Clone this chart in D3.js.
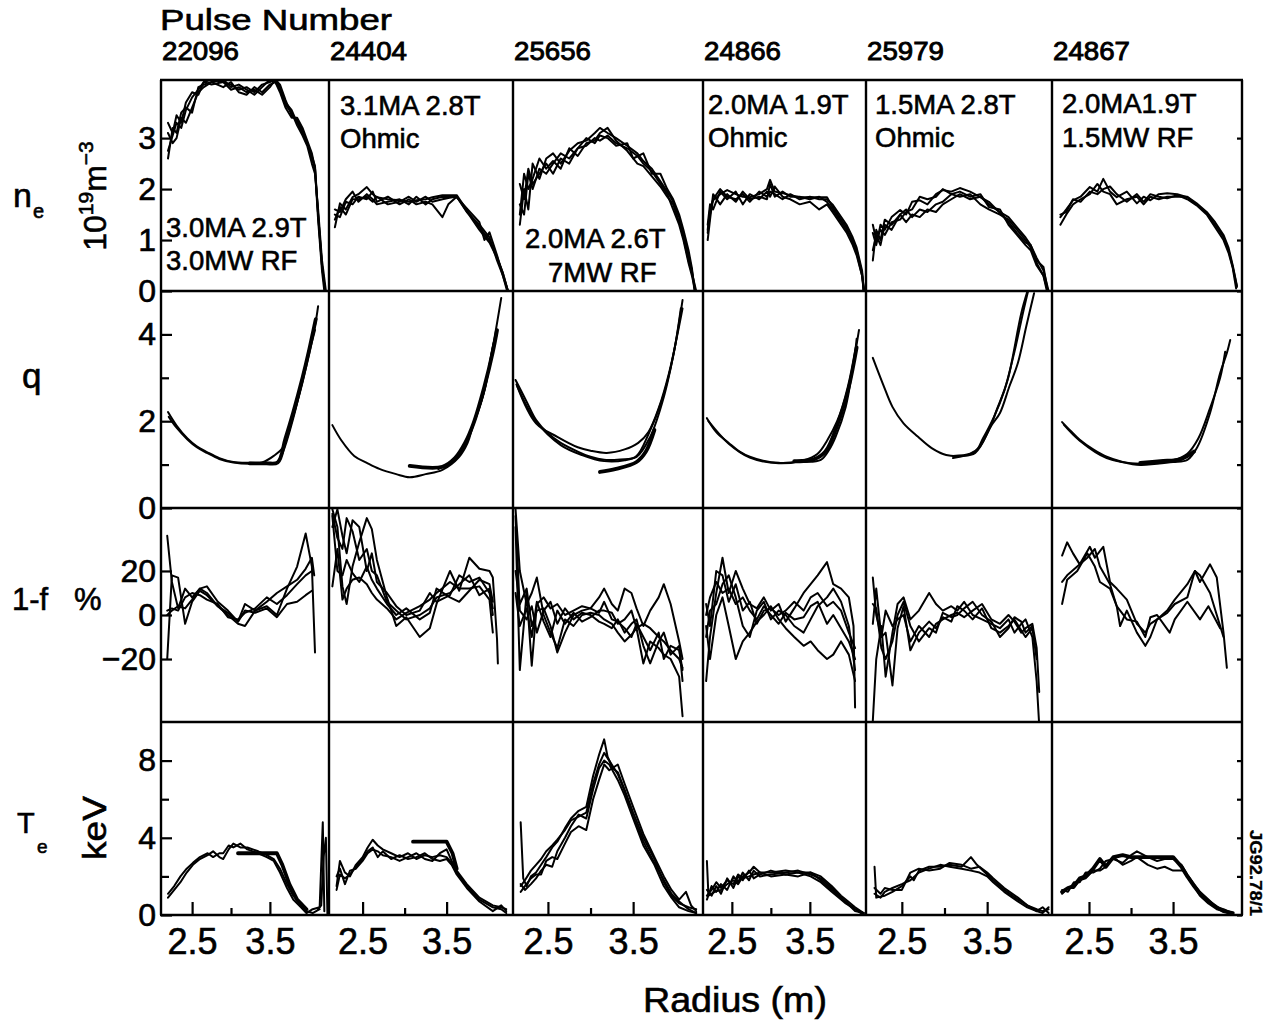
<!DOCTYPE html>
<html>
<head>
<meta charset="utf-8">
<script src="https://cdn.jsdelivr.net/npm/d3@7"></script>
<style>
  body { margin: 0; background: #fff; }
  svg { font-family: "Liberation Sans", Arial, Helvetica, sans-serif; }
</style>
</head>
<body>
<div id="chart"></div>
<script>
// ---- chart content ----
const pulses = ["22096", "24404", "25656", "24866", "25979", "24867"];
const conditions = [
  ["3.0MA 2.9T", "3.0MW RF"],
  ["3.1MA 2.8T", "Ohmic"],
  ["2.0MA 2.6T", "7MW RF"],
  ["2.0MA 1.9T", "Ohmic"],
  ["1.5MA 2.8T", "Ohmic"],
  ["2.0MA1.9T", "1.5MW RF"]
];
// radius range shown by each column (m)
const radiusDomains = [[2.10, 4.26], [2.10, 4.29], [2.09, 4.32], [2.13, 4.22], [2.08, 4.26], [2.06, 4.32]];
const radiusTicks = [2.5, 3.5];
const radiusMinorTicks = [3.0];
// rows: ne (1e19 m^-3), q, 1-f (%), Te (keV)
const quantityDomains = [[0, 4.14], [0, 5], [-48.6, 48.6], [0, 10]];
const quantityTicks = [[0, 1, 2, 3], [0, 2, 4], [-20, 0, 20], [0, 4, 8]];
const quantityMinorTicks = [[], [1, 3], [], [2, 6]];

// ---- ne profiles ----
const ne_22096 = [
  [[2.19,2.75],[2.25,3.05],[2.30,3.3],[2.36,3.2],[2.42,3.55],[2.50,3.8],[2.58,3.95],[2.65,4.1],[2.75,4.15],[2.90,4.1],[3.00,4.05],[3.10,3.95],[3.20,4.0],[3.30,3.9],[3.40,4.05],[3.50,4.1],[3.57,4.15],[3.63,4.0],[3.70,3.7],[3.78,3.55],[3.85,3.3],[3.92,3.1],[3.98,2.9],[4.04,2.6],[4.08,2.4],[4.12,1.5],[4.17,0.5],[4.21,0.0]],
  [[2.19,3.1],[2.25,2.9],[2.30,3.0],[2.36,3.4],[2.42,3.3],[2.50,3.6],[2.58,3.9],[2.65,4.0],[2.75,4.1],[2.90,4.0],[3.00,4.1],[3.10,3.9],[3.20,3.85],[3.30,4.0],[3.40,3.9],[3.50,4.05],[3.57,4.1],[3.63,3.9],[3.70,3.6],[3.78,3.4],[3.85,3.4],[3.92,3.2],[3.98,2.95],[4.04,2.7],[4.08,2.4],[4.12,1.4],[4.17,0.4],[4.20,0.0]],
  [[2.19,2.6],[2.25,3.2],[2.30,3.1],[2.36,3.5],[2.42,3.6],[2.50,3.5],[2.58,4.0],[2.65,4.05],[2.75,4.1],[2.90,4.15],[3.00,4.0],[3.10,4.05],[3.20,3.95],[3.30,3.85],[3.40,4.0],[3.50,4.15],[3.57,4.1],[3.63,3.95],[3.70,3.65],[3.78,3.5],[3.85,3.25],[3.92,3.05],[3.98,2.85],[4.04,2.5],[4.08,2.3],[4.12,1.6],[4.17,0.6],[4.22,0.0]],
  [[2.19,3.3],[2.25,3.1],[2.30,3.45],[2.36,3.3],[2.42,3.7],[2.50,3.9],[2.58,3.85],[2.65,4.1],[2.75,4.05],[2.90,4.1],[3.00,3.95],[3.10,4.0],[3.20,3.9],[3.30,3.95],[3.40,3.85],[3.50,4.0],[3.57,4.15],[3.63,4.05],[3.70,3.75],[3.78,3.45],[3.85,3.35],[3.92,3.15],[3.98,2.9],[4.04,2.65],[4.08,2.45],[4.12,1.5],[4.17,0.5],[4.21,0.0]]
];
const ne_24404 = [
  [[2.17,1.25],[2.23,1.72],[2.30,1.6],[2.38,1.84],[2.45,1.9],[2.55,2.04],[2.62,1.9],[2.67,1.84],[2.80,1.8],[2.94,1.78],[3.05,1.75],[3.14,1.78],[3.25,1.8],[3.33,1.84],[3.45,1.88],[3.62,1.88],[3.74,1.59],[3.89,1.25],[4.01,1.0],[4.10,0.67],[4.17,0.35],[4.23,0.0]],
  [[2.17,1.5],[2.23,1.45],[2.30,1.75],[2.38,1.7],[2.45,1.85],[2.55,1.8],[2.62,1.95],[2.67,1.75],[2.80,1.85],[2.94,1.7],[3.05,1.8],[3.14,1.7],[3.25,1.75],[3.33,1.7],[3.45,1.45],[3.52,1.7],[3.62,1.85],[3.74,1.55],[3.89,1.3],[4.01,1.05],[4.10,0.6],[4.17,0.3],[4.22,0.0]],
  [[2.17,1.6],[2.23,1.55],[2.30,1.8],[2.38,1.95],[2.45,1.75],[2.55,1.9],[2.62,1.8],[2.67,1.7],[2.80,1.75],[2.94,1.8],[3.05,1.7],[3.14,1.85],[3.25,1.7],[3.33,1.8],[3.45,1.85],[3.62,1.84],[3.74,1.62],[3.89,1.35],[3.95,1.0],[4.01,1.15],[4.10,0.7],[4.17,0.3],[4.23,0.0]],
  [[2.17,1.4],[2.23,1.65],[2.30,1.5],[2.38,1.8],[2.45,1.8],[2.55,1.85],[2.62,1.75],[2.67,1.85],[2.80,1.7],[2.94,1.75],[3.05,1.85],[3.14,1.75],[3.25,1.85],[3.33,1.75],[3.45,1.8],[3.62,1.86],[3.74,1.56],[3.89,1.2],[4.01,0.95],[4.10,0.65],[4.17,0.35],[4.23,0.0]]
];
const ne_25656 = [
  [[2.17,1.3],[2.22,2.0],[2.27,1.6],[2.32,2.5],[2.40,2.2],[2.48,2.6],[2.56,2.7],[2.65,2.5],[2.75,2.75],[2.85,2.9],[2.95,2.95],[3.05,3.1],[3.11,3.2],[3.20,3.1],[3.30,3.0],[3.43,2.85],[3.55,2.7],[3.62,2.55],[3.72,2.4],[3.82,2.15],[3.90,1.95],[3.97,1.75],[4.04,1.45],[4.09,1.1],[4.15,0.7],[4.19,0.4],[4.23,0.0]],
  [[2.17,1.7],[2.22,1.5],[2.27,2.3],[2.32,2.0],[2.40,2.4],[2.48,2.3],[2.56,2.5],[2.65,2.7],[2.75,2.6],[2.85,2.8],[2.95,3.0],[3.05,2.9],[3.11,3.05],[3.20,3.0],[3.30,2.85],[3.43,2.9],[3.50,2.6],[3.62,2.7],[3.72,2.3],[3.82,2.3],[3.90,2.0],[3.97,1.8],[4.04,1.5],[4.09,1.2],[4.15,0.8],[4.19,0.45],[4.22,0.0]],
  [[2.17,1.5],[2.22,2.3],[2.27,2.0],[2.32,2.2],[2.40,2.6],[2.48,2.4],[2.56,2.55],[2.65,2.4],[2.75,2.8],[2.85,2.65],[2.95,2.9],[3.05,2.95],[3.11,3.1],[3.20,3.2],[3.30,2.95],[3.43,2.75],[3.55,2.5],[3.62,2.45],[3.72,2.25],[3.82,2.05],[3.90,1.85],[3.97,1.7],[4.04,1.35],[4.09,1.05],[4.15,0.6],[4.19,0.35],[4.24,0.0]],
  [[2.17,2.1],[2.22,1.8],[2.27,2.4],[2.32,2.1],[2.40,2.3],[2.48,2.5],[2.56,2.3],[2.65,2.6],[2.75,2.5],[2.85,2.8],[2.95,2.85],[3.05,3.0],[3.11,2.95],[3.20,3.05],[3.30,2.9],[3.43,2.8],[3.55,2.65],[3.62,2.5],[3.72,2.35],[3.82,2.1],[3.90,1.9],[3.97,1.6],[4.04,1.3],[4.09,1.0],[4.15,0.55],[4.19,0.3],[4.23,0.0]]
];
const ne_24866 = [
  [[2.19,1.14],[2.22,1.5],[2.26,1.78],[2.35,1.9],[2.44,1.98],[2.55,1.9],[2.64,1.85],[2.73,1.84],[2.85,1.9],[2.95,2.0],[2.99,2.18],[3.05,1.95],[3.15,1.92],[3.25,1.88],[3.37,1.84],[3.50,1.84],[3.62,1.84],[3.72,1.84],[3.79,1.65],[3.88,1.45],[3.97,1.25],[4.05,0.95],[4.10,0.8],[4.17,0.35],[4.19,0.0]],
  [[2.19,1.3],[2.22,1.7],[2.26,1.6],[2.35,1.95],[2.44,1.8],[2.55,1.95],[2.64,1.7],[2.73,1.9],[2.85,1.8],[2.95,1.95],[2.99,1.85],[3.05,2.05],[3.15,1.85],[3.25,1.8],[3.37,1.7],[3.50,1.75],[3.62,1.6],[3.72,1.7],[3.79,1.55],[3.88,1.35],[3.97,1.15],[4.05,0.9],[4.10,0.7],[4.17,0.3],[4.19,0.0]],
  [[2.19,1.0],[2.22,1.4],[2.26,1.9],[2.35,1.7],[2.44,1.9],[2.55,1.75],[2.64,1.95],[2.73,1.8],[2.85,1.85],[2.95,1.8],[2.99,2.1],[3.05,1.85],[3.15,1.95],[3.25,1.85],[3.37,1.85],[3.50,1.8],[3.62,1.85],[3.72,1.75],[3.79,1.6],[3.88,1.4],[3.97,1.2],[4.05,1.0],[4.10,0.75],[4.17,0.3],[4.20,0.0]],
  [[2.19,1.2],[2.22,1.6],[2.26,1.8],[2.35,2.0],[2.44,1.85],[2.55,1.8],[2.64,1.9],[2.73,1.75],[2.85,1.95],[2.95,1.85],[2.99,1.95],[3.05,1.9],[3.15,1.8],[3.25,1.9],[3.37,1.8],[3.50,1.85],[3.62,1.8],[3.72,1.8],[3.79,1.7],[3.88,1.5],[3.97,1.3],[4.05,1.05],[4.10,0.85],[4.17,0.4],[4.19,0.0]]
];
const ne_25979 = [
  [[2.16,1.14],[2.20,0.9],[2.25,1.3],[2.30,1.2],[2.38,1.45],[2.48,1.59],[2.55,1.5],[2.62,1.75],[2.71,1.78],[2.80,1.7],[2.90,1.9],[2.98,1.98],[3.08,1.95],[3.18,2.02],[3.30,1.95],[3.42,1.84],[3.52,1.75],[3.65,1.53],[3.75,1.35],[3.85,1.14],[3.95,0.95],[4.01,0.9],[4.08,0.6],[4.16,0.47],[4.21,0.0]],
  [[2.16,0.6],[2.20,1.2],[2.25,1.0],[2.30,1.4],[2.38,1.3],[2.48,1.5],[2.55,1.6],[2.62,1.45],[2.71,1.6],[2.80,1.55],[2.90,1.7],[2.98,1.75],[3.08,1.9],[3.18,1.85],[3.30,1.9],[3.42,1.7],[3.52,1.6],[3.65,1.5],[3.75,1.4],[3.85,1.2],[3.95,1.0],[4.01,0.85],[4.08,0.55],[4.16,0.3],[4.20,0.0]],
  [[2.16,1.3],[2.20,1.0],[2.25,1.2],[2.30,1.1],[2.38,1.35],[2.48,1.4],[2.55,1.55],[2.62,1.6],[2.71,1.85],[2.80,1.8],[2.90,1.85],[2.98,2.0],[3.08,1.9],[3.18,1.95],[3.30,1.85],[3.42,1.9],[3.52,1.65],[3.65,1.6],[3.75,1.3],[3.85,1.1],[3.95,0.9],[4.01,0.8],[4.08,0.5],[4.16,0.3],[4.21,0.0]],
  [[2.16,0.8],[2.20,1.1],[2.25,0.9],[2.30,1.3],[2.38,1.2],[2.48,1.5],[2.55,1.35],[2.62,1.5],[2.71,1.45],[2.80,1.6],[2.90,1.55],[2.98,1.7],[3.08,1.8],[3.18,1.9],[3.30,1.8],[3.42,1.85],[3.52,1.7],[3.65,1.55],[3.75,1.45],[3.85,1.25],[3.95,1.05],[4.01,0.9],[4.08,0.65],[4.16,0.4],[4.22,0.0]]
];
const ne_24867 = [
  [[2.16,1.45],[2.23,1.6],[2.31,1.78],[2.40,1.85],[2.51,2.04],[2.60,1.95],[2.67,2.2],[2.75,1.95],[2.83,1.84],[2.95,1.95],[3.07,1.72],[3.15,1.85],[3.23,1.78],[3.33,1.9],[3.43,1.92],[3.55,1.9],[3.67,1.84],[3.78,1.7],[3.90,1.53],[4.00,1.3],[4.10,1.06],[4.16,0.8],[4.21,0.47],[4.26,0.08]],
  [[2.16,1.3],[2.23,1.5],[2.31,1.7],[2.40,1.8],[2.51,1.9],[2.60,2.1],[2.67,1.95],[2.75,1.9],[2.83,1.7],[2.95,1.8],[3.07,1.85],[3.15,1.7],[3.23,1.85],[3.33,1.8],[3.43,1.85],[3.55,1.85],[3.67,1.85],[3.78,1.72],[3.90,1.55],[4.00,1.35],[4.10,1.1],[4.16,0.85],[4.21,0.5],[4.26,0.1]],
  [[2.16,1.5],[2.23,1.55],[2.31,1.8],[2.40,1.75],[2.51,1.95],[2.60,1.9],[2.67,2.0],[2.75,2.05],[2.83,1.9],[2.95,1.75],[3.07,1.9],[3.15,1.75],[3.23,1.9],[3.33,1.85],[3.43,1.82],[3.55,1.88],[3.67,1.8],[3.78,1.68],[3.90,1.5],[4.00,1.25],[4.10,1.0],[4.16,0.75],[4.21,0.45],[4.25,0.05]]
];

// ---- q profiles ----
const q_22096 = [
  [[2.19,2.21],[2.30,1.9],[2.44,1.6],[2.56,1.42],[2.69,1.29],[2.85,1.15],[3.03,1.06],[3.24,1.04],[3.45,1.04],[3.59,1.04],[3.67,1.3],[3.79,2.0],[3.92,2.95],[4.01,3.7],[4.08,4.2],[4.12,4.65]],
  [[2.20,2.1],[2.30,1.85],[2.44,1.58],[2.56,1.4],[2.69,1.27],[2.85,1.13],[3.03,1.05],[3.24,1.02],[3.40,1.05],[3.55,1.2],[3.67,1.4],[3.79,2.05],[3.92,2.9],[4.01,3.6],[4.08,4.1]],
  [[3.24,1.03],[3.45,1.03],[3.60,1.05],[3.70,1.6],[3.80,2.2],[3.92,3.0],[4.00,3.6],[4.06,4.1],[4.09,4.35]]
];
const q_24404 = [
  [[2.14,1.91],[2.25,1.55],[2.40,1.2],[2.55,1.04],[2.70,0.9],[2.90,0.78],[3.06,0.71],[3.25,0.78],[3.45,0.88],[3.65,1.18],[3.75,1.5],[3.81,1.87],[3.93,2.56],[4.05,3.71],[4.15,4.84]],
  [[3.06,0.97],[3.45,0.95],[3.60,1.15],[3.72,1.5],[3.82,1.95],[3.95,2.8],[4.05,3.6],[4.10,4.1]],
  [[3.40,0.9],[3.60,1.1],[3.72,1.45],[3.83,2.0],[3.95,2.7],[4.06,3.8],[4.10,4.0]]
];
const q_25656 = [
  [[2.12,2.95],[2.25,2.45],[2.36,2.03],[2.50,1.72],[2.65,1.5],[2.85,1.3],[3.00,1.18],[3.16,1.11],[3.35,1.12],[3.54,1.18],[3.70,1.64],[3.86,2.56],[3.99,3.71],[4.08,4.79]],
  [[2.14,2.8],[2.36,1.95],[2.61,1.64],[2.85,1.4],[3.00,1.32],[3.19,1.27],[3.40,1.35],[3.56,1.5],[3.68,1.75],[3.80,2.3],[3.92,3.1],[4.02,4.0],[4.08,4.6]],
  [[3.11,0.83],[3.30,0.9],[3.54,1.06],[3.65,1.3],[3.75,1.8]],
  [[2.13,2.85],[2.36,2.0],[2.65,1.45],[2.90,1.22],[3.16,1.08],[3.40,1.1],[3.54,1.2],[3.68,1.7],[3.84,2.5],[3.97,3.5],[4.06,4.6]]
];
const q_24866 = [
  [[2.18,2.07],[2.30,1.75],[2.46,1.5],[2.60,1.3],[2.73,1.18],[2.90,1.09],[3.10,1.04],[3.25,1.05],[3.42,1.06],[3.64,1.11],[3.75,1.35],[3.83,1.64],[3.96,2.33],[4.06,3.34],[4.13,4.1]],
  [[2.20,2.0],[2.46,1.48],[2.73,1.16],[3.10,1.03],[3.42,1.1],[3.60,1.25],[3.72,1.55],[3.85,2.0],[3.98,2.7],[4.08,3.6],[4.10,3.9]],
  [[3.30,1.08],[3.55,1.12],[3.70,1.3],[3.85,1.9],[4.00,2.8],[4.10,3.7]]
];
const q_25979 = [
  [[2.16,3.46],[2.28,2.85],[2.39,2.33],[2.52,1.95],[2.69,1.64],[2.85,1.38],[3.02,1.22],[3.20,1.2],[3.36,1.27],[3.52,1.8],[3.62,2.3],[3.74,2.95],[3.90,4.49],[3.97,4.98]],
  [[3.10,1.2],[3.30,1.25],[3.41,1.4],[3.55,1.9],[3.65,2.19],[3.76,2.8],[3.86,3.34],[3.96,4.2],[4.05,4.95]],
  [[3.10,1.15],[3.36,1.3],[3.45,1.6],[3.58,2.1],[3.70,2.7],[3.82,3.6],[3.92,4.5],[3.98,5.0]]
];
const q_24867 = [
  [[2.18,1.98],[2.28,1.78],[2.39,1.57],[2.55,1.35],[2.71,1.18],[2.90,1.06],[3.11,0.99],[3.30,1.02],[3.50,1.06],[3.67,1.11],[3.79,1.41],[3.94,2.19],[4.06,3.11],[4.14,3.57],[4.18,3.87]],
  [[2.20,1.92],[2.39,1.55],[2.71,1.15],[3.11,1.02],[3.50,1.1],[3.67,1.25],[3.80,1.6],[3.94,2.3],[4.06,3.0],[4.12,3.6]],
  [[3.11,1.04],[3.35,1.08],[3.60,1.13],[3.75,1.3]]
];

// ---- 1-f profiles (%) ----
const ff_22096 = [
  [[2.18,36],[2.24,15],[2.32,3],[2.41,12],[2.50,8],[2.60,12],[2.69,13],[2.83,6],[2.96,2],[3.09,-3],[3.18,5],[3.31,2],[3.46,4],[3.59,0],[3.72,12],[3.85,22],[3.96,37],[4.04,22],[4.08,-17]],
  [[2.18,-20],[2.24,18],[2.32,17],[2.41,-4],[2.50,6],[2.60,11],[2.69,9],[2.83,4],[2.96,0],[3.09,-4],[3.18,-5],[3.31,2],[3.46,6],[3.59,10],[3.72,13],[3.85,16],[3.96,21],[4.04,26],[4.07,18]],
  [[2.18,2],[2.24,3],[2.32,2],[2.41,8],[2.50,10],[2.60,9],[2.69,7],[2.83,5],[2.96,-1],[3.09,-2],[3.18,1],[3.31,3],[3.46,8],[3.59,5],[3.72,9],[3.85,14],[3.96,18],[4.04,20]],
  [[2.18,0],[2.24,2],[2.32,4],[2.41,3],[2.50,7],[2.60,12],[2.69,10],[2.83,4],[2.96,1],[3.09,-3],[3.18,2],[3.31,1],[3.46,3],[3.59,-1],[3.72,5],[3.85,6],[3.96,9],[4.04,11]]
];
const ff_24404 = [
  [[2.14,48],[2.20,40],[2.26,13],[2.31,5],[2.38,22],[2.46,33],[2.55,44],[2.61,39],[2.67,25],[2.79,8],[2.90,-5],[3.02,-1],[3.18,-10],[3.30,-6],[3.38,5],[3.54,20],[3.65,11],[3.77,26],[3.89,21],[4.01,20],[4.05,17],[4.10,-11],[4.11,-22]],
  [[2.14,13],[2.20,30],[2.26,7],[2.31,12],[2.38,16],[2.46,17],[2.55,14],[2.61,10],[2.67,7],[2.79,3],[2.90,-2],[3.02,1],[3.18,4],[3.30,7],[3.38,10],[3.54,15],[3.65,12],[3.77,12],[3.89,13],[4.01,7],[4.05,-8]],
  [[2.14,46],[2.20,35],[2.26,30],[2.31,44],[2.38,38],[2.46,25],[2.55,30],[2.61,20],[2.67,18],[2.79,6],[2.90,2],[3.02,-2],[3.18,0],[3.30,3],[3.38,8],[3.54,10],[3.65,14],[3.77,18],[3.89,9],[4.01,12],[4.05,0]],
  [[2.14,40],[2.20,48],[2.26,36],[2.31,28],[2.38,43],[2.46,40],[2.55,20],[2.61,28],[2.67,15],[2.79,10],[2.90,4],[3.02,0],[3.18,2],[3.30,10],[3.38,6],[3.54,9],[3.65,18],[3.77,15],[3.89,17],[4.01,10],[4.05,3]],
  [[2.14,45],[2.20,20],[2.26,18],[2.31,25],[2.38,19],[2.46,15],[2.55,22],[2.61,16],[2.67,12],[2.79,5],[2.90,0],[3.02,3],[3.18,-2],[3.30,1],[3.38,12],[3.54,8],[3.65,6],[3.77,11],[3.89,16],[4.01,14],[4.05,6]]
];
const ff_25656 = [
  [[2.12,48],[2.17,20],[2.25,5],[2.31,10],[2.37,17],[2.45,0],[2.53,-8],[2.61,-15],[2.70,-2],[2.80,-5],[2.90,0],[3.00,1],[3.10,0],[3.16,-2],[3.25,-4],[3.32,-8],[3.40,-12],[3.48,-9],[3.54,-6],[3.62,-22],[3.70,-12],[3.80,-15],[3.86,-18],[3.94,-20],[4.04,-28],[4.08,-46]],
  [[2.12,40],[2.17,-25],[2.25,10],[2.31,-23],[2.37,5],[2.45,8],[2.53,3],[2.61,5],[2.70,0],[2.80,2],[2.90,4],[3.00,3],[3.10,8],[3.16,12],[3.25,5],[3.32,2],[3.40,12],[3.48,10],[3.54,3],[3.62,-5],[3.70,2],[3.80,8],[3.86,14],[3.94,5],[4.04,-12],[4.08,-20]],
  [[2.12,20],[2.17,5],[2.25,12],[2.31,-5],[2.37,2],[2.45,3],[2.53,-5],[2.61,-17],[2.70,-8],[2.80,0],[2.90,2],[3.00,3],[3.10,1],[3.16,6],[3.25,-2],[3.32,-3],[3.40,-6],[3.48,-10],[3.54,-4],[3.62,-10],[3.70,-16],[3.80,-8],[3.86,-20],[3.94,-14],[4.04,-16],[4.08,-25]],
  [[2.12,10],[2.17,-5],[2.25,3],[2.31,-10],[2.37,6],[2.45,-3],[2.53,-10],[2.61,2],[2.70,-4],[2.80,1],[2.90,-3],[3.00,-1],[3.10,2],[3.16,2],[3.25,1],[3.32,-4],[3.40,-2],[3.48,2],[3.54,-6],[3.62,-4],[3.70,-6],[3.80,-10],[3.86,-12],[3.94,-16],[4.04,-20],[4.08,-24]],
  [[2.12,45],[2.17,2],[2.25,-2],[2.31,4],[2.37,-8],[2.45,2],[2.53,6],[2.61,-4],[2.70,3],[2.80,-2],[2.90,1],[3.00,0],[3.10,-3],[3.16,-4],[3.25,-6],[3.32,-2],[3.40,-8],[3.48,-4],[3.54,-2],[3.62,-14],[3.70,-22],[3.80,-12],[3.86,-8],[3.94,-18],[4.04,-14],[4.08,-30]]
];
const ff_24866 = [
  [[2.17,-30],[2.22,-10],[2.30,10],[2.38,26],[2.46,10],[2.55,20],[2.64,12],[2.73,5],[2.82,3],[2.91,8],[3.00,2],[3.10,5],[3.19,-3],[3.30,3],[3.42,10],[3.51,14],[3.60,18],[3.72,24],[3.80,14],[3.90,12],[4.00,8],[4.06,-5],[4.08,-42]],
  [[2.17,-10],[2.22,2],[2.30,5],[2.38,14],[2.46,18],[2.55,8],[2.64,-5],[2.73,-10],[2.82,2],[2.91,6],[3.00,-2],[3.10,2],[3.19,0],[3.30,-5],[3.42,-8],[3.51,-2],[3.60,4],[3.72,8],[3.80,12],[3.90,6],[4.00,-5],[4.08,-25]],
  [[2.17,-5],[2.22,-20],[2.30,0],[2.38,8],[2.46,-5],[2.55,-20],[2.64,-12],[2.73,-8],[2.82,-3],[2.91,0],[3.00,4],[3.10,-2],[3.19,-6],[3.30,-10],[3.42,-14],[3.51,-12],[3.60,-16],[3.72,-20],[3.80,-18],[3.90,-12],[4.00,-18],[4.08,-30]],
  [[2.17,0],[2.22,8],[2.30,15],[2.38,10],[2.46,12],[2.55,5],[2.64,8],[2.73,2],[2.82,-2],[2.91,4],[3.00,0],[3.10,-4],[3.19,1],[3.30,-2],[3.42,-1],[3.51,4],[3.60,6],[3.72,-4],[3.80,0],[3.90,-6],[4.00,-12],[4.08,-20]],
  [[2.17,5],[2.22,-5],[2.30,20],[2.38,18],[2.46,6],[2.55,14],[2.64,2],[2.73,6],[2.82,-4],[2.91,2],[3.00,3],[3.10,0],[3.19,2],[3.30,6],[3.42,2],[3.51,8],[3.60,10],[3.72,4],[3.80,6],[3.90,2],[4.00,-8],[4.08,-15]]
];
const ff_25979 = [
  [[2.16,-48],[2.20,-20],[2.26,-5],[2.31,-28],[2.39,-8],[2.45,5],[2.52,8],[2.60,-2],[2.70,2],[2.82,10],[2.90,5],[2.98,2],[3.08,4],[3.15,2],[3.23,6],[3.33,0],[3.44,-2],[3.55,-4],[3.65,-6],[3.75,-2],[3.82,-8],[3.90,-4],[3.95,-2],[4.03,-10],[4.08,-30],[4.11,-50]],
  [[2.16,17],[2.20,0],[2.26,-10],[2.31,2],[2.39,-5],[2.45,-2],[2.52,0],[2.60,-12],[2.70,-5],[2.82,-10],[2.90,-4],[2.98,-2],[3.08,0],[3.15,1],[3.23,-1],[3.33,2],[3.44,5],[3.55,-2],[3.65,-4],[3.75,0],[3.82,-3],[3.90,-8],[3.95,-6],[4.03,-4],[4.08,-15],[4.11,-35]],
  [[2.16,-4],[2.20,12],[2.26,-10],[2.31,-8],[2.39,-32],[2.45,-6],[2.52,4],[2.60,-16],[2.70,-8],[2.82,-3],[2.90,-6],[2.98,-1],[3.08,-3],[3.15,4],[3.23,2],[3.33,-2],[3.44,3],[3.55,-6],[3.65,-8],[3.75,-5],[3.82,-2],[3.90,-7],[3.95,-10],[4.03,-6],[4.08,-20]],
  [[2.16,5],[2.20,3],[2.26,-15],[2.31,-20],[2.39,-12],[2.45,0],[2.52,6],[2.60,-5],[2.70,-12],[2.82,-6],[2.90,-8],[2.98,1],[3.08,-1],[3.15,0],[3.23,3],[3.33,6],[3.44,0],[3.55,-3],[3.65,-10],[3.75,-6],[3.82,-1],[3.90,-3],[3.95,-8],[4.03,-5]]
];
const ff_24867 = [
  [[2.18,27],[2.24,33],[2.31,28],[2.39,23],[2.51,31],[2.57,26],[2.63,29],[2.67,31],[2.75,15],[2.83,12],[2.95,7],[3.07,-4],[3.17,-8],[3.23,-4],[3.31,-2],[3.43,2],[3.52,7],[3.67,14],[3.76,20],[3.82,15],[3.94,23],[4.02,17],[4.10,-8],[4.14,-24]],
  [[2.18,5],[2.24,16],[2.36,20],[2.48,28],[2.57,22],[2.63,15],[2.75,12],[2.83,4],[2.87,-5],[2.95,2],[3.07,-8],[3.17,-14],[3.23,-10],[3.31,-2],[3.43,1],[3.52,5],[3.67,8],[3.76,20],[3.82,18],[3.94,10],[4.02,0],[4.10,-10]],
  [[2.18,15],[2.24,18],[2.36,22],[2.48,26],[2.57,30],[2.63,22],[2.75,14],[2.83,4],[2.95,-2],[3.07,-3],[3.17,-10],[3.23,-1],[3.31,0],[3.46,-8],[3.52,-2],[3.67,6],[3.82,-2],[3.92,4],[4.06,-6]]
];

// ---- Te profiles (keV) ----
const te_22096 = [
  [[2.19,0.9],[2.27,1.3],[2.35,1.7],[2.43,2.2],[2.51,2.6],[2.60,2.9],[2.70,3.1],[2.77,3.3],[2.85,3.0],[2.90,2.9],[2.97,3.4],[3.03,3.7],[3.12,3.5],[3.21,3.5],[3.35,3.3],[3.46,3.1],[3.55,2.9],[3.63,2.4],[3.72,1.6],[3.80,1.0],[3.90,0.5],[3.97,0.2],[4.05,0.1],[4.14,0.3]],
  [[2.19,1.1],[2.27,1.5],[2.35,2.0],[2.43,2.4],[2.51,2.7],[2.60,3.0],[2.70,3.2],[2.77,3.0],[2.85,3.2],[2.90,3.2],[2.97,3.6],[3.03,3.5],[3.12,3.7],[3.21,3.4],[3.35,3.2],[3.46,3.0],[3.55,2.8],[3.63,2.2],[3.72,1.4],[3.80,0.8],[3.90,0.4],[3.97,0.1],[4.05,0.3],[4.14,0.4],[4.18,4.8],[4.20,0.2]],
  [[3.09,3.2],[3.30,3.2],[3.59,3.2],[3.66,2.6],[3.75,1.6],[3.85,0.8],[3.97,0.3]],
  [[4.12,0.3],[4.16,0.5],[4.19,3.0],[4.22,4.0],[4.24,0.0]]
];
const te_24404 = [
  [[2.19,1.5],[2.23,2.8],[2.29,2.2],[2.35,2.0],[2.42,2.6],[2.50,3.0],[2.56,3.5],[2.62,3.9],[2.68,3.6],[2.74,3.4],[2.84,3.2],[2.94,3.0],[3.04,3.2],[3.14,2.9],[3.24,3.1],[3.33,3.0],[3.42,3.1],[3.50,3.0],[3.56,2.7],[3.62,2.2],[3.74,1.5],[3.89,0.8],[4.05,0.4],[4.15,0.3],[4.21,0.1]],
  [[2.19,2.0],[2.23,2.4],[2.29,1.6],[2.35,2.3],[2.42,2.4],[2.50,2.8],[2.56,3.2],[2.62,3.4],[2.68,3.3],[2.74,3.1],[2.84,3.0],[2.94,2.8],[3.04,3.0],[3.14,3.2],[3.24,2.9],[3.33,2.8],[3.42,3.2],[3.50,3.4],[3.56,2.8],[3.62,2.3],[3.74,1.6],[3.89,0.9],[4.05,0.5],[4.15,0.4],[4.21,0.3]],
  [[2.19,1.3],[2.23,2.1],[2.29,1.9],[2.35,2.1],[2.42,2.5],[2.50,2.9],[2.56,3.3],[2.62,3.5],[2.68,3.0],[2.74,3.3],[2.84,2.9],[2.94,3.1],[3.04,2.9],[3.14,3.0],[3.24,3.2],[3.33,2.9],[3.42,2.8],[3.50,2.9],[3.56,2.6],[3.62,2.1],[3.74,1.4],[3.89,0.7],[4.05,0.2],[4.15,0.5],[4.21,0.2]],
  [[3.10,3.8],[3.50,3.8],[3.57,3.2],[3.62,2.4]]
];
const te_25656 = [
  [[2.18,4.8],[2.21,1.9],[2.25,1.5],[2.30,2.0],[2.36,2.2],[2.42,2.6],[2.48,3.0],[2.55,3.5],[2.61,3.8],[2.70,4.5],[2.77,5.0],[2.86,5.4],[2.95,5.6],[3.03,7.2],[3.10,8.3],[3.16,9.1],[3.20,8.2],[3.26,7.6],[3.32,7.4],[3.40,6.5],[3.50,5.3],[3.62,4.0],[3.75,2.9],[3.86,1.7],[3.95,1.0],[4.04,0.6],[4.15,0.4],[4.24,0.3]],
  [[2.18,1.6],[2.23,1.3],[2.30,1.6],[2.36,1.9],[2.42,2.3],[2.48,2.6],[2.55,2.5],[2.61,3.3],[2.70,4.0],[2.77,4.6],[2.86,5.2],[2.95,5.0],[3.03,6.5],[3.10,7.6],[3.16,8.0],[3.22,7.8],[3.32,7.0],[3.40,6.2],[3.50,5.0],[3.62,3.6],[3.75,2.6],[3.86,1.5],[3.95,0.9],[4.04,0.4],[4.15,0.2],[4.24,0.1]],
  [[2.18,1.2],[2.23,1.5],[2.30,1.9],[2.36,2.1],[2.42,2.1],[2.48,2.8],[2.55,3.0],[2.61,2.9],[2.70,3.7],[2.77,4.3],[2.86,4.6],[2.95,4.4],[3.03,6.0],[3.10,7.0],[3.16,7.8],[3.22,7.5],[3.32,7.8],[3.40,6.8],[3.50,5.6],[3.62,4.2],[3.75,3.0],[3.86,2.0],[3.95,1.3],[4.04,0.8],[4.12,1.2],[4.18,0.5],[4.24,0.2]],
  [[2.18,1.5],[2.23,1.8],[2.30,2.3],[2.36,2.6],[2.42,2.9],[2.48,3.3],[2.55,3.6],[2.61,3.9],[2.70,4.4],[2.77,4.9],[2.86,5.1],[2.95,5.3],[3.03,6.8],[3.10,7.8],[3.16,8.4],[3.22,8.0],[3.32,7.3],[3.40,6.4],[3.50,5.1],[3.62,3.8],[3.75,2.7],[3.86,1.8],[3.95,1.1],[4.04,0.7],[4.15,0.3],[4.24,0.1]]
];
const te_24866 = [
  [[2.18,2.8],[2.20,1.0],[2.28,1.2],[2.36,1.3],[2.44,1.6],[2.52,1.8],[2.58,1.6],[2.64,2.0],[2.72,2.2],[2.78,2.5],[2.86,2.2],[3.00,2.2],[3.19,2.3],[3.35,2.2],[3.51,2.2],[3.64,2.0],[3.78,1.5],[3.90,1.0],[3.96,0.8],[4.08,0.4],[4.19,0.1]],
  [[2.18,1.3],[2.24,1.0],[2.30,1.5],[2.36,1.1],[2.44,1.9],[2.52,1.4],[2.58,2.0],[2.64,1.8],[2.72,2.3],[2.78,1.9],[2.86,2.1],[3.00,2.3],[3.19,2.1],[3.35,2.2],[3.51,2.0],[3.64,1.7],[3.78,1.2],[3.90,0.8],[3.96,0.6],[4.08,0.3],[4.19,0.1]],
  [[2.18,0.8],[2.24,1.5],[2.30,1.2],[2.36,1.6],[2.44,1.3],[2.52,2.0],[2.58,1.7],[2.64,2.2],[2.72,1.8],[2.78,2.3],[2.86,2.0],[3.00,2.1],[3.19,2.2],[3.35,2.3],[3.51,2.1],[3.64,1.9],[3.78,1.4],[3.90,0.9],[3.96,0.7],[4.08,0.3],[4.19,0.0]],
  [[2.18,1.0],[2.24,1.3],[2.30,1.7],[2.36,1.4],[2.44,1.8],[2.52,1.6],[2.58,2.1],[2.64,1.9],[2.72,2.0],[2.78,2.1],[2.86,2.2],[3.00,2.0],[3.19,2.1],[3.35,2.0],[3.51,2.2],[3.64,1.8],[3.78,1.3],[3.90,0.9],[4.08,0.2],[4.19,0.1]]
];
const te_25979 = [
  [[2.18,2.5],[2.20,0.9],[2.30,1.0],[2.39,1.2],[2.50,1.5],[2.60,2.0],[2.64,1.8],[2.70,2.3],[2.82,2.5],[2.95,2.5],[3.06,2.6],[3.20,2.5],[3.31,3.0],[3.38,2.6],[3.50,2.1],[3.57,1.8],[3.70,1.3],[3.86,0.8],[3.97,0.5],[4.08,0.2],[4.15,0.4],[4.22,0.1]],
  [[2.18,1.1],[2.25,0.9],[2.30,1.2],[2.39,1.4],[2.50,1.6],[2.60,1.8],[2.70,2.2],[2.82,2.4],[2.95,2.6],[3.06,2.5],[3.20,2.4],[3.31,2.3],[3.41,2.2],[3.50,2.0],[3.57,1.7],[3.70,1.2],[3.86,0.7],[3.97,0.4],[4.08,0.2],[4.15,0.1],[4.22,0.4]],
  [[2.18,1.4],[2.25,1.1],[2.30,1.4],[2.39,1.3],[2.50,1.3],[2.60,2.2],[2.70,2.4],[2.82,2.3],[2.95,2.4],[3.06,2.7],[3.20,2.6],[3.31,2.4],[3.41,2.5],[3.50,2.2],[3.57,1.9],[3.70,1.4],[3.86,0.9],[3.97,0.5],[4.08,0.3],[4.15,0.2],[4.22,0.3]]
];
const te_24867 = [
  [[2.18,1.2],[2.25,1.4],[2.32,1.5],[2.39,1.9],[2.46,2.0],[2.55,2.4],[2.63,2.9],[2.70,2.5],[2.79,3.0],[2.90,3.1],[3.00,3.0],[3.10,3.0],[3.20,3.0],[3.30,3.0],[3.40,3.0],[3.50,3.0],[3.60,2.5],[3.67,2.0],[3.75,1.5],[3.82,1.1],[3.92,0.7],[4.02,0.4],[4.10,0.2],[4.21,0.1]],
  [[2.18,1.3],[2.25,1.2],[2.32,1.7],[2.39,1.7],[2.46,2.2],[2.55,2.2],[2.63,2.4],[2.70,2.8],[2.79,2.9],[2.90,2.7],[3.00,3.1],[3.07,3.3],[3.20,3.0],[3.31,2.8],[3.40,2.9],[3.50,2.9],[3.60,2.6],[3.67,2.1],[3.75,1.6],[3.82,1.2],[3.92,0.8],[4.02,0.4],[4.10,0.3],[4.21,0.1]],
  [[2.18,1.1],[2.25,1.4],[2.32,1.4],[2.39,1.8],[2.46,1.9],[2.55,2.3],[2.63,2.3],[2.70,2.5],[2.79,3.0],[2.90,2.6],[3.00,2.8],[3.07,3.0],[3.20,2.6],[3.31,2.4],[3.40,2.5],[3.50,2.3],[3.62,2.3],[3.67,2.0],[3.75,1.5],[3.82,1.0],[3.92,0.6],[4.02,0.3],[4.10,0.2],[4.21,0.0]]
];

const profiles = [
  [ne_22096, ne_24404, ne_25656, ne_24866, ne_25979, ne_24867],
  [q_22096, q_24404, q_25656, q_24866, q_25979, q_24867],
  [ff_22096, ff_24404, ff_25656, ff_24866, ff_25979, ff_24867],
  [te_22096, te_24404, te_25656, te_24866, te_25979, te_24867]
];
// traces drawn heavier in the original: [row, column, trace]
const heavyTraces = [[1,0,2],[1,1,1],[1,2,2],[1,3,2],[1,5,2],[3,0,2],[3,1,3],[3,5,0]];

// ---- layout ----
const width = 1272, height = 1029;
const FONT = '"Liberation Sans", Arial, Helvetica, sans-serif';
const colEdges = [161, 329, 513, 703, 866, 1052, 1242];
const rowEdges = [80, 291, 508, 722, 915];

const svg = d3.select("#chart").append("svg")
    .attr("width", width)
    .attr("height", height)
    .style("background", "#fff");

const xScales = pulses.map((p, i) =>
    d3.scaleLinear().domain(radiusDomains[i]).range([colEdges[i], colEdges[i + 1]]));
const yScales = quantityDomains.map((d, j) =>
    d3.scaleLinear().domain(d).range([rowEdges[j + 1], rowEdges[j]]));

const defs = svg.append("defs");

// Profiles
profiles.forEach((row, j) => {
    row.forEach((traces, i) => {
        const id = `clip-${j}-${i}`;
        defs.append("clipPath").attr("id", id).append("rect")
            .attr("x", colEdges[i]).attr("y", rowEdges[j])
            .attr("width", colEdges[i + 1] - colEdges[i])
            .attr("height", rowEdges[j + 1] - rowEdges[j]);

        const line = d3.line()
            .x(d => xScales[i](d[0]))
            .y(d => yScales[j](d[1]))
            .curve(j === 1 ? d3.curveCatmullRom : d3.curveLinear);

        svg.append("g").attr("clip-path", `url(#${id})`)
            .selectAll("path")
            .data(traces)
            .enter().append("path")
            .attr("d", line)
            .attr("fill", "none")
            .attr("stroke", "#000")
            .attr("stroke-linejoin", "round")
            .attr("stroke-linecap", "round")
            .attr("stroke-width", (d, k) =>
                heavyTraces.some(h => h[0] === j && h[1] === i && h[2] === k) ? 3.8 : 2.0);
    });
});

// Frame
const frame = svg.append("g").attr("stroke", "#000").attr("stroke-width", 2.4);
colEdges.forEach(x => frame.append("line")
    .attr("x1", x).attr("x2", x).attr("y1", rowEdges[0]).attr("y2", rowEdges[4]));
rowEdges.forEach(y => frame.append("line")
    .attr("x1", colEdges[0] - 1).attr("x2", colEdges[6] + 1).attr("y1", y).attr("y2", y));

function styleAxis(g, size) {
    g.attr("font-family", FONT).attr("font-size", size);
    g.select(".domain").remove();
    g.selectAll("line").attr("stroke-width", 2.2);
    g.selectAll("text").attr("fill", "#000").attr("stroke", "#000").attr("stroke-width", 0.6);
}

const fmt = d => d < 0 ? "\u2212" + Math.abs(d) : String(d);

// Left axes (ticks point inward)
quantityDomains.forEach((d, j) => {
    const g = svg.append("g").attr("transform", `translate(${colEdges[0]},0)`);
    g.call(d3.axisLeft(yScales[j]).tickValues(quantityTicks[j]).tickSize(-11).tickPadding(5).tickFormat(fmt));
    styleAxis(g, 32);
    if (quantityMinorTicks[j].length) {
        const gm = svg.append("g").attr("transform", `translate(${colEdges[0]},0)`);
        gm.call(d3.axisLeft(yScales[j]).tickValues(quantityMinorTicks[j]).tickSize(-8).tickFormat(""));
        styleAxis(gm, 10);
    }
    const gr = svg.append("g").attr("transform", `translate(${colEdges[6]},0)`);
    gr.call(d3.axisRight(yScales[j]).tickValues(quantityTicks[j].concat(quantityMinorTicks[j])).tickSize(-5).tickFormat(""));
    styleAxis(gr, 10);
});

// Bottom axes
pulses.forEach((p, i) => {
    const g = svg.append("g").attr("transform", `translate(0,${rowEdges[4]})`);
    g.call(d3.axisBottom(xScales[i]).tickValues(radiusTicks).tickSize(-13).tickPadding(13).tickFormat(d3.format(".1f")));
    styleAxis(g, 36);
    const gm = svg.append("g").attr("transform", `translate(0,${rowEdges[4]})`);
    gm.call(d3.axisBottom(xScales[i]).tickValues(radiusMinorTicks).tickSize(-7).tickFormat(""));
    styleAxis(gm, 10);
});

// Texts
function text(x, y, str, size, opts = {}) {
    const t = svg.append("text")
        .attr("x", x).attr("y", y)
        .attr("font-family", FONT)
        .attr("font-size", size)
        .attr("fill", "#000")
        .attr("stroke", "#000")
        .attr("stroke-width", opts.stroke === undefined ? 0.6 : opts.stroke)
        .text(str);
    if (opts.anchor) t.attr("text-anchor", opts.anchor);
    if (opts.length) t.attr("textLength", opts.length).attr("lengthAdjust", "spacingAndGlyphs");
    if (opts.weight) t.attr("font-weight", opts.weight);
    if (opts.transform) t.attr("transform", opts.transform);
    return t;
}

text(160, 30, "Pulse Number", 29, { length: 232 });
pulses.forEach((p, i) => text(colEdges[i] + 1, 60, p, 26, { length: 77, stroke: 0.9 }));

// Panel conditions: [x, baseline of first line, baseline of second line, x of second line]
const conditionPlacement = [
    [166, 237, 270, 166],
    [340, 115, 148, 340],
    [525, 248, 282, 548],
    [708, 114, 147, 708],
    [875, 114, 147, 875],
    [1062, 113, 147, 1062]
];
conditions.forEach((c, i) => {
    const pl = conditionPlacement[i];
    text(pl[0], pl[1], c[0], 27.5);
    text(pl[3], pl[2], c[1], 27.5);
});

// Row labels
text(13, 207, "n", 34);
text(33, 218, "e", 20);
const unitNe = svg.append("text")
    .attr("transform", "translate(106,196) rotate(-90)")
    .attr("text-anchor", "middle")
    .attr("font-family", FONT).attr("font-size", 32)
    .attr("fill", "#000").attr("stroke", "#000").attr("stroke-width", 0.6);
unitNe.append("tspan").text("10");
unitNe.append("tspan").attr("font-size", 21).attr("dy", -13).text("19");
unitNe.append("tspan").attr("dy", 13).text("m");
unitNe.append("tspan").attr("font-size", 21).attr("dy", -13).text("\u22123");

text(22, 388, "q", 35);
text(12, 610, "1-f", 31);
text(74, 610, "%", 31);
text(17, 833, "T", 29);
text(37, 853, "e", 19);
text(0, 0, "keV", 33, { anchor: "middle", length: 64, transform: "translate(106,828) rotate(-90)" });

text(735, 1012, "Radius (m)", 35, { anchor: "middle", length: 184 });
text(0, 0, "JG92.78/1", 16, { weight: "bold", length: 86, stroke: 0.3, transform: "translate(1250,830) rotate(90)" });
</script>
</body>
</html>
